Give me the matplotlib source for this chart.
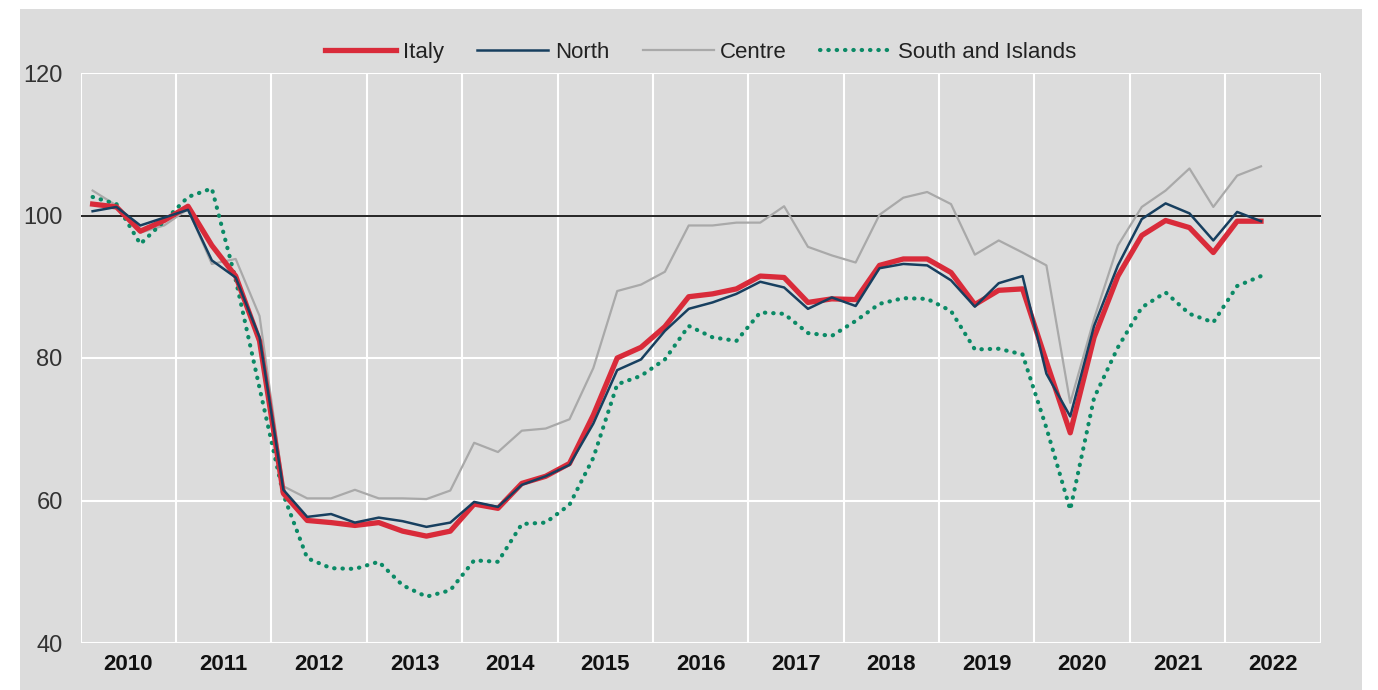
import matplotlib
matplotlib.use("Agg")
import matplotlib.pyplot as plt
from matplotlib.patches import Rectangle
import numpy as np

plt.rcParams['font.family'] = ['Liberation Sans', 'DejaVu Sans']

# quarterly index, 2010Q1 .. 2022Q2
start_year = 2010
years = list(range(2010, 2023))

italy = [101.6, 101.2, 97.8, 99.3, 101.3, 95.8, 91.5, 82.4, 61.0, 57.2,
         56.9, 56.5, 56.9, 55.7, 55.0, 55.7, 59.5, 58.9, 62.4, 63.4,
         65.2, 72.0, 80.0, 81.5, 84.4, 88.6, 89.0, 89.7, 91.5, 91.3,
         87.8, 88.3, 88.2, 93.0, 93.9, 93.9, 92.0, 87.5, 89.5, 89.7,
         79.5, 69.5, 82.9, 91.5, 97.2, 99.3, 98.3, 94.8, 99.2, 99.2]
north = [100.6, 101.2, 98.6, 99.7, 100.8, 93.7, 91.3, 82.9, 61.5, 57.7,
         58.1, 56.9, 57.6, 57.1, 56.3, 56.9, 59.8, 59.1, 62.2, 63.4,
         65.0, 70.8, 78.3, 79.8, 83.8, 86.9, 87.8, 89.0, 90.7, 89.9,
         86.9, 88.5, 87.3, 92.6, 93.2, 93.0, 90.9, 87.2, 90.5, 91.5,
         77.8, 71.8, 84.5, 93.0, 99.5, 101.7, 100.3, 96.5, 100.5, 99.2]
centre = [103.5, 101.4, 97.6, 98.6, 100.9, 93.2, 93.9, 85.9, 62.0, 60.3,
          60.3, 61.5, 60.3, 60.3, 60.2, 61.4, 68.1, 66.8, 69.8, 70.1,
          71.4, 78.6, 89.4, 90.3, 92.1, 98.6, 98.6, 99.0, 99.0, 101.3,
          95.6, 94.4, 93.4, 100.1, 102.5, 103.3, 101.6, 94.5, 96.5, 94.8,
          93.0, 73.7, 85.5, 95.8, 101.2, 103.5, 106.6, 101.2, 105.6, 106.9]
south = [102.6, 101.6, 96.0, 99.2, 102.6, 103.8, 91.0, 75.8, 60.8, 51.9,
         50.5, 50.4, 51.4, 48.1, 46.5, 47.4, 51.6, 51.4, 56.7, 56.9,
         59.4, 66.0, 76.3, 77.5, 79.8, 84.5, 82.9, 82.4, 86.4, 86.2,
         83.5, 83.1, 85.2, 87.6, 88.4, 88.3, 86.6, 81.2, 81.3, 80.5,
         70.2, 58.7, 74.4, 81.5, 87.1, 89.2, 86.2, 85.0, 90.1, 91.5]

# middle of each quarter on a year axis
x = start_year + (np.arange(len(italy)) + 0.5) / 4

bg = '#dcdcdc'
fig = plt.figure(figsize=(13.78, 6.9), dpi=100, facecolor='white')
fig.add_artist(Rectangle((20 / 1378, 0), 1342 / 1378, 681 / 690,
                         transform=fig.transFigure, facecolor=bg,
                         edgecolor='none', zorder=-10))
ax = fig.add_axes([80.7 / 1378, 47 / 690, 1239.9 / 1378, 570 / 690])
ax.set_facecolor(bg)

ax.plot(x, centre, color='#a9a9a9', lw=1.6, label='Centre', zorder=3)
ax.plot(x, south, color='#0b8a66', lw=3.0, linestyle=(0, (0.1, 1.9)),
        dash_capstyle='round', label='South and Islands', zorder=3)
ax.plot(x, italy, color='#d92b3a', lw=3.8, label='Italy', zorder=4,
        solid_joinstyle='round')
ax.plot(x, north, color='#173f5f', lw=1.8, label='North', zorder=5)
ax.axhline(100, color='black', lw=1.2, zorder=2)

ax.set_xlim(2010, 2023)
ax.set_ylim(40, 120)
ax.set_yticks([40, 60, 80, 100, 120])
ax.set_xticks(range(2010, 2024))
ax.set_xticklabels([])
ax.set_xticks([y + 0.5 for y in years], minor=True)
ax.set_xticklabels([str(y) for y in years], minor=True,
                   fontsize=16, fontweight='bold', color='#111111')
ax.tick_params(axis='x', which='both', length=0, pad=8)
ax.tick_params(axis='y', length=0, pad=13, labelsize=17, labelcolor='#333333')
ax.grid(True, which='major', color='white', lw=1.5, zorder=1)
ax.set_axisbelow(True)
for s in ax.spines.values():
    s.set_visible(False)

handles, labels = ax.get_legend_handles_labels()
order = [labels.index(n) for n in ['Italy', 'North', 'Centre', 'South and Islands']]
leg = ax.legend([handles[i] for i in order], [labels[i] for i in order],
                loc='lower center', bbox_to_anchor=(0.5, 1.0), ncol=4, frameon=False,
                fontsize=16, handlelength=3.2, columnspacing=1.5, handletextpad=0.3,
                borderaxespad=0.05)
for t in leg.get_texts():
    t.set_color('#222222')

fig.savefig('out.png', dpi=100, facecolor=fig.get_facecolor())
